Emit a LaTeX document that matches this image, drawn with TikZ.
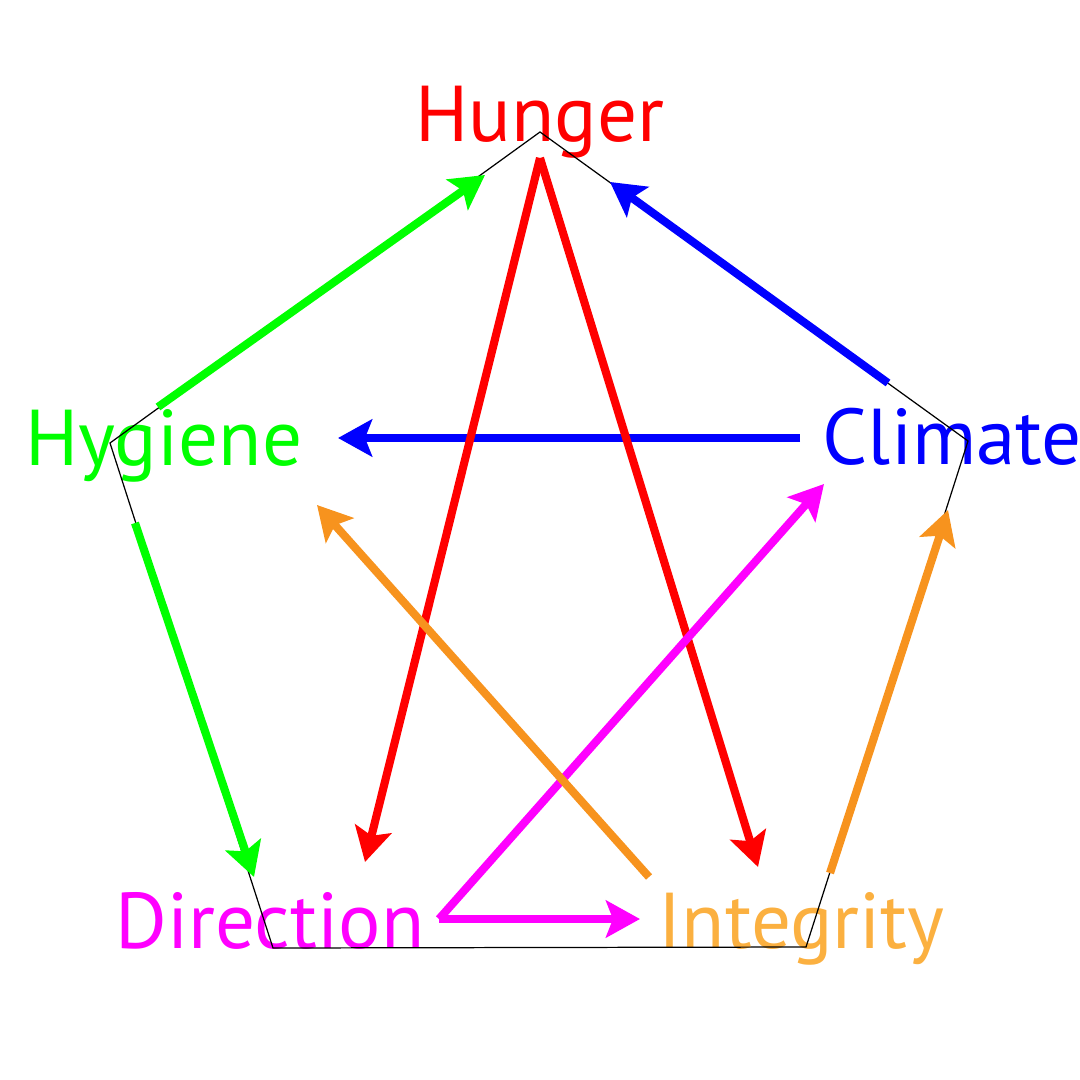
\documentclass[tikz,border=0pt]{standalone}
\usepackage{fontspec}
\setmainfont{PT Sans}
\usetikzlibrary{arrows.meta}

\definecolor{hungerred}{HTML}{FF0000}
\definecolor{hygienegreen}{HTML}{00FF00}
\definecolor{climateblue}{HTML}{0000FF}
\definecolor{directionpink}{HTML}{FF00FF}
\definecolor{integrityorange}{HTML}{F7931E}
\definecolor{integritylabel}{HTML}{FBB040}

\tikzset{
	word/.style={font=\fontsize{22.5}{27}\selectfont, anchor=base west, inner sep=0pt},
	link/.style={line width=2.3pt, -{Stealth[length=0.34cm, width=0.37cm, inset=0.07cm]}},
}

\begin{document}
\begin{tikzpicture}[x=0.01cm, y=-0.01cm]
	%%%%% START %%%%%
	\useasboundingbox (0, 0) rectangle (1080, 1080);

	\node[word, text=hungerred] (hunger) at (415, 142) {Hunger};
	\node[word, text=climateblue] (climate) at (822, 465) {Climate};
	\node[word, text=hygienegreen] (hygiene) at (25, 466) {Hygiene};
	\node[word, text=directionpink] (direction) at (115, 948) {Direction};
	\node[word, text=integritylabel] (integrity) at (658, 948) {Integrity};

	\draw[line width=0.35pt] (540, 132) coordinate (v-hun) -- (968, 441) coordinate (v-cli)
		-- (806, 947) coordinate (v-int) -- (273, 948) coordinate (v-dir)
		-- (110, 443) coordinate (v-hyg) -- cycle;

	% ends of the links
	\coordinate (hyg-a) at (158, 407);  \coordinate (hun-a) at (485, 175);
	\coordinate (hyg-b) at (135, 523);  \coordinate (dir-b) at (254, 877);
	\coordinate (cli-a) at (888, 383);  \coordinate (hun-b) at (610, 182);
	\coordinate (cli-b) at (800, 438);  \coordinate (hyg-c) at (338, 438);
	\coordinate (hun-c) at (540, 158);  \coordinate (dir-c) at (365, 862);
	\coordinate (int-c) at (758, 867);
	\coordinate (dir-a) at (439, 919);  \coordinate (cli-c) at (824, 484);
	\coordinate (int-a) at (640, 919);
	\coordinate (int-b) at (649, 877);  \coordinate (hyg-d) at (317, 505);
	\coordinate (int-d) at (830, 873);  \coordinate (cli-d) at (948, 510);

	\draw[link, hygienegreen] (hyg-a) -- (hun-a);
	\draw[link, hygienegreen] (hyg-b) -- (dir-b);

	\draw[link, climateblue] (cli-a) -- (hun-b);
	\draw[link, climateblue] (cli-b) -- (hyg-c);

	\draw[link, hungerred] (hun-c) -- (dir-c);
	\draw[link, hungerred] (hun-c) -- (int-c);

	\draw[link, directionpink] (dir-a) -- (cli-c);
	\draw[link, directionpink] (dir-a) -- (int-a);

	\draw[link, integrityorange] (int-b) -- (hyg-d);
	\draw[link, integrityorange] (int-d) -- (cli-d);

	%%%%% END %%%%%
\end{tikzpicture}
\end{document}
